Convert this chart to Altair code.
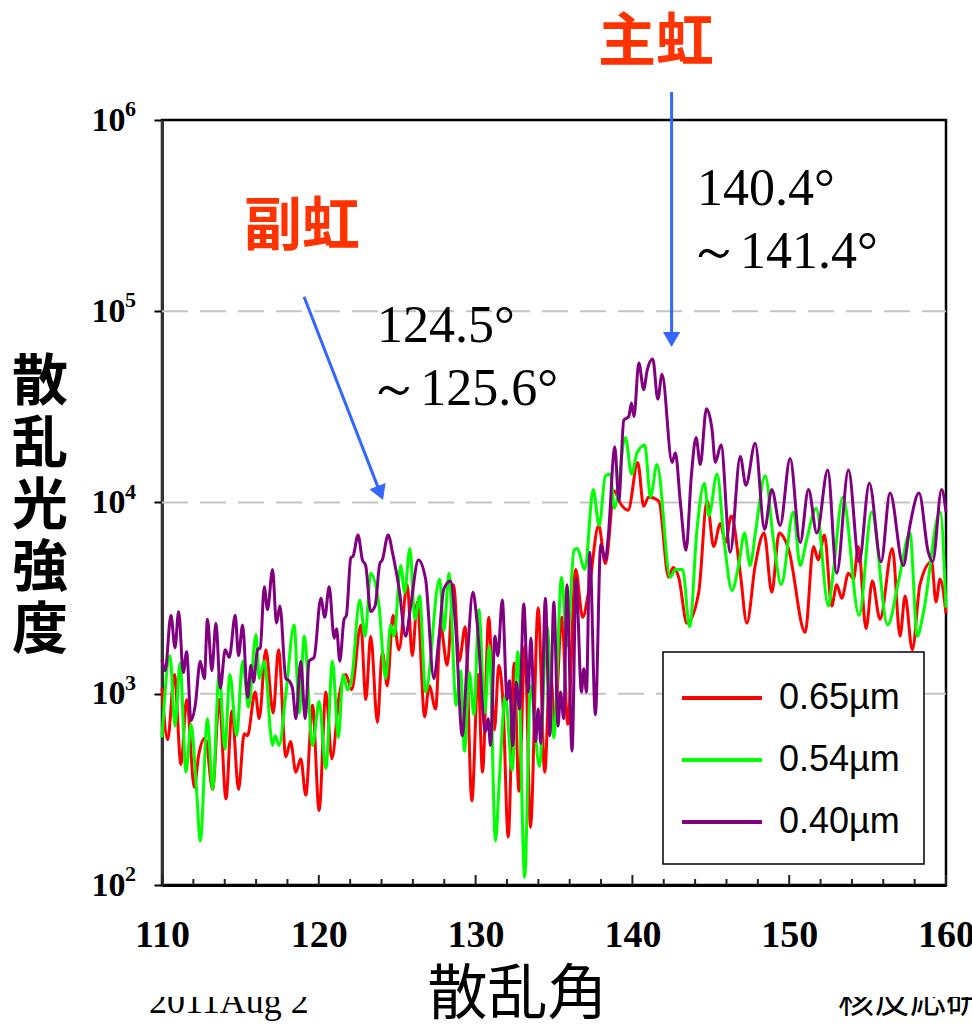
import altair as alt
import pandas as pd

# Scattering angle (deg) and scattered-light intensity for each wavelength
red_angle = [110.0, 110.36, 110.79, 111.21, 111.57, 112.06, 112.34, 112.76, 113.23, 113.65,
             114.08, 114.46, 114.88, 115.24, 115.45, 115.94, 116.2, 116.62, 117.09, 117.43,
             117.9, 118.2, 118.54, 118.85, 119.17, 119.6, 120.02, 120.45, 120.83, 121.3,
             121.72, 122.1, 122.68, 123.0, 123.31, 123.74, 124.05, 124.37, 124.73, 125.11,
             125.64, 125.96, 126.28, 126.75, 127.04, 127.45, 127.77, 128.19, 128.6, 128.95,
             129.34, 129.76, 130.16, 130.44, 130.84, 131.2, 131.48, 131.75, 132.08, 132.46,
             132.76, 133.15, 133.5, 133.99, 134.41, 134.75, 135.05, 135.5, 135.88, 136.38,
             136.83, 137.22, 137.85, 138.28, 138.85, 139.2, 139.73, 140.34, 140.72, 141.04,
             141.68, 142.31, 142.6, 142.95, 143.48, 144.23, 144.76, 145.18, 145.61, 145.93,
             146.31, 146.88, 147.3, 147.83, 148.4, 148.89, 149.36, 149.95, 151.02, 151.55,
             151.85, 152.25, 152.71, 153.03, 153.35, 153.78, 154.1, 154.41, 154.9, 155.3,
             155.79, 156.58, 157.07, 157.39, 157.85, 158.34, 159.08, 159.36, 159.62, 160.0]
red_intensity = [1070, 575, 1260, 427, 933, 324, 479, 589, 316, 933,
                 282, 813, 316, 617, 603, 1020, 741, 1700, 794, 1700,
                 468, 562, 389, 457, 295, 871, 245, 1020, 457, 977,
                 1260, 1050, 2290, 933, 2000, 708, 1660, 1100, 2570, 1700,
                 3720, 1580, 3020, 759, 1100, 832, 2240, 1410, 3720, 1480,
                 2240, 275, 1260, 389, 2510, 646, 1410, 891, 178, 1450,
                 309, 1780, 200, 2820, 389, 1410, 708, 2510, 692, 4470,
                 2510, 3470, 7590, 4790, 11500, 10000, 9120, 16200, 9550, 10700,
                 10200, 4070, 4570, 4070, 2340, 3390, 10200, 5890, 7760, 6170,
                 8510, 4270, 2340, 4680, 6920, 3390, 6920, 5750, 2090, 5890,
                 5010, 6760, 2880, 3720, 3160, 4270, 3980, 5890, 2190, 3890,
                 2450, 5750, 2000, 3240, 1700, 3720, 4900, 3020, 3980, 2630]

green_angle = [110.0, 110.51, 110.83, 111.15, 111.53, 111.85, 112.2, 112.44, 112.9, 113.23,
               113.65, 114.01, 114.33, 114.76, 115.14, 115.52, 115.99, 116.2, 116.52, 117.05,
               117.22, 117.47, 117.9, 118.43, 118.75, 119.07, 119.6, 120.02, 120.45, 120.87,
               121.25, 121.55, 121.83, 122.1, 122.61, 122.95, 123.31, 123.84, 124.26, 124.58,
               124.8, 125.22, 125.47, 125.81, 126.13, 126.43, 126.81, 127.7, 127.98, 128.3,
               128.76, 129.05, 129.29, 129.61, 129.89, 130.21, 130.59, 130.87, 131.27, 131.52,
               131.9, 132.33, 132.69, 133.13, 133.5, 134.07, 134.56, 134.99, 135.48, 135.84,
               136.27, 136.47, 136.97, 137.5, 137.88, 138.28, 138.6, 138.85, 139.56, 139.94,
               140.3, 140.79, 141.15, 141.57, 142.42, 142.74, 143.2, 143.65, 144.12, 144.59,
               144.87, 145.4, 145.85, 146.35, 146.77, 147.15, 147.51, 147.84, 148.47, 149.0,
               149.49, 150.27, 150.7, 151.1, 151.72, 152.5, 152.8, 153.42, 154.46, 155.26,
               156.28, 157.0, 157.7, 158.17, 158.55, 159.62, 160.0]
green_intensity = [589, 1580, 676, 1450, 389, 692, 316, 170, 741, 316,
                   1290, 513, 1260, 603, 1480, 851, 2040, 1200, 1480, 537,
                   603, 537, 1000, 2290, 794, 2000, 537, 912, 407, 1480,
                   589, 1260, 1050, 1200, 3090, 2000, 4270, 2880, 1200, 2290,
                   2000, 4680, 3390, 5750, 2450, 3240, 1020, 3980, 2140, 4270,
                   871, 1320, 501, 1290, 776, 2750, 794, 1780, 170, 363,
                   977, 398, 1660, 110, 1100, 417, 2240, 589, 4070, 1780,
                   5620, 5750, 4470, 11700, 7590, 13800, 14100, 9330, 21900, 14100,
                   18200, 20000, 10700, 15800, 4070, 4470, 4470, 2240, 7240, 12600,
                   8510, 14100, 6310, 3470, 4680, 6920, 4680, 6920, 13800, 6310,
                   3720, 8910, 4680, 6310, 9330, 2880, 4270, 10700, 2570, 8910,
                   2290, 3980, 6920, 2000, 2630, 8910, 2820]

purple_angle = [110.0, 110.2, 110.57, 110.83, 111.06, 111.36, 111.57, 111.85, 112.12, 112.44,
                112.7, 112.9, 113.18, 113.44, 113.72, 114.03, 114.29, 114.67, 114.88, 115.14,
                115.46, 115.67, 115.84, 116.09, 116.27, 116.52, 116.73, 117.05, 117.3, 117.52,
                117.9, 118.1, 118.32, 118.54, 118.85, 119.13, 119.38, 119.7, 120.13, 120.38,
                120.66, 120.98, 121.13, 121.34, 121.61, 121.76, 122.04, 122.19, 122.5, 122.78,
                122.99, 123.31, 123.59, 123.89, 124.05, 124.42, 124.72, 125.12, 125.54, 125.86,
                126.35, 126.81, 127.34, 127.66, 127.98, 128.4, 128.72, 129.15, 129.46, 129.83,
                130.1, 130.63, 130.8, 130.95, 131.23, 131.42, 131.7, 132.01, 132.16, 132.37,
                132.59, 132.8, 133.07, 133.35, 133.52, 133.82, 133.99, 134.16, 134.45, 134.73,
                134.99, 135.26, 135.41, 135.62, 135.83, 136.15, 136.41, 136.75, 136.9, 137.07,
                137.28, 137.64, 137.98, 138.28, 138.45, 138.88, 139.13, 139.45, 139.77, 139.94,
                140.1, 140.41, 140.72, 140.94, 141.3, 141.62, 141.89, 142.53, 142.74, 143.06,
                143.42, 143.76, 144.06, 144.33, 144.72, 145.08, 145.29, 145.65, 146.24, 146.88,
                147.24, 147.83, 148.43, 148.89, 149.42, 150.06, 150.7, 151.23, 151.76, 152.46,
                153.03, 153.78, 154.46, 155.11, 155.86, 156.43, 157.28, 157.7, 158.28, 158.87,
                159.15, 159.72, 160.0]
purple_intensity = [1510, 1320, 2570, 1740, 2690, 1290, 1660, 724, 871, 1480,
                    1200, 2450, 1320, 2340, 1070, 1700, 1550, 2570, 1580, 2290,
                    955, 1410, 1150, 1700, 1740, 3630, 2750, 4470, 2340, 2880,
                    1200, 1170, 1070, 741, 1480, 741, 1480, 1550, 3160, 2510,
                    3630, 1950, 2190, 1480, 2450, 2570, 5130, 5250, 6760, 5010,
                    4680, 2690, 2880, 4790, 5010, 6760, 5370, 3550, 2000, 2880,
                    5010, 3980, 1200, 1950, 3550, 3890, 2290, 603, 1480, 3390,
                    2340, 631, 741, 537, 2000, 1580, 3090, 933, 1170, 537,
                    1150, 832, 2950, 1020, 1950, 562, 832, 550, 3160, 603,
                    3020, 676, 1020, 741, 3720, 501, 3980, 1020, 1350, 1020,
                    5500, 776, 6030, 5010, 6460, 19500, 10200, 26900, 28200, 33100,
                    28200, 53700, 38900, 49000, 56200, 34700, 46800, 16200, 18200, 10000,
                    5620, 13800, 21900, 15800, 30900, 24000, 16200, 20000, 5500, 17400,
                    12300, 20400, 7240, 11700, 7590, 17000, 6170, 11700, 6920, 14800,
                    4270, 14800, 4900, 12600, 4900, 11200, 4680, 7590, 11200, 5500,
                    4900, 11700, 8910]

series_names = ["0.65µm", "0.54µm", "0.40µm"]
series_colors = ["#FF0000", "#00FF00", "#800080"]

# Axis ticks
decades = [100, 1000, 10000, 100000, 1000000]
decade_exponents = ["2", "3", "4", "5", "6"]
inner_gridlines = [1000, 10000, 100000]
major_ticks = [110, 120, 130, 140, 150, 160]
minor_ticks = [112, 114, 116, 118, 122, 124, 126, 128, 132, 134, 136, 138,
               142, 144, 146, 148, 152, 154, 156, 158]

# Rainbow annotations: arrows (start -> head) and angle ranges
arrow_x0 = [142.5, 119.06]
arrow_y0 = [1400000, 119000]
arrow_x1 = [142.5, 123.92]
arrow_y1 = [71100, 11200]
arrow_rot = [0, 338.7]
bow_names = ["主虹", "副虹"]
bow_x = [141.5, 118.93]
bow_y = [2500000, 272000]
range_text = ["140.4°", "～141.4°", "124.5°", "～125.6°"]
range_x = [144.12, 143.55, 123.71, 123.15]
range_y = [359000, 168000, 69000, 32400]

W, H = 784, 765
SERIF = "Liberation Serif"
CJK = "Noto Sans CJK JP"
BLUE = "#3366FF"
BOW_RED = "#FF3300"

x_scale = alt.Scale(domain=[110, 160], nice=False, zero=False)
y_scale = alt.Scale(type="log", domain=[100, 1000000], nice=False)
color_scale = alt.Scale(domain=series_names, range=series_colors)

x_axis = alt.Axis(values=major_ticks, format="d", ticks=False, grid=False,
                  domainColor="black", domainWidth=3, labelFlush=False,
                  labelFont=SERIF, labelFontWeight="bold", labelFontSize=38,
                  labelColor="black", labelPadding=31,
                  title="散乱角", titleFont=CJK, titleFontSize=60,
                  titleFontWeight="normal", titleColor="black",
                  titleX=355, titleY=110, titleBaseline="middle")
y_axis = alt.Axis(values=decades, labelExpr="'10'", grid=False,
                  tickSize=8, tickWidth=2, tickColor="black",
                  domainColor="#333333", domainWidth=3,
                  labelFont=SERIF, labelFontWeight="bold", labelFontSize=34,
                  labelColor="black", labelPadding=29, labelBaseline="middle",
                  title=None)

legend = alt.Legend(title=None, orient="none", legendX=501, legendY=532,
                    direction="vertical", symbolType="M-2,0H2", symbolSize=1600,
                    symbolStrokeWidth=4, symbolOffset=13, padding=24,
                    labelOffset=35, rowPadding=22,
                    labelFont="Liberation Sans", labelFontSize=36,
                    labelColor="black", strokeColor="black", fillColor="white")


def X(field):
    return alt.X(field, scale=x_scale, axis=x_axis)


def Y(field):
    return alt.Y(field, scale=y_scale, axis=y_axis)


def wave(angles, values, name):
    df = pd.DataFrame({"angle": angles, "intensity": values, "series": name})
    return alt.Chart(df).mark_line(strokeWidth=3, interpolate="monotone").encode(
        x=X("angle:Q"), y=Y("intensity:Q"),
        color=alt.Color("series:N", scale=color_scale, legend=legend),
    )


grid = alt.Chart(pd.DataFrame({"v": inner_gridlines})).mark_rule(
    color="#c4c4c4", strokeWidth=2, strokeDash=[26, 12]
).encode(y=Y("v:Q"), x=alt.value(0), x2=alt.value(W))

major = alt.Chart(pd.DataFrame({"t": major_ticks})).mark_rule(
    color="#222222", strokeWidth=2
).encode(x=X("t:Q"), y=alt.value(H), y2=alt.value(H - 10))
minor = alt.Chart(pd.DataFrame({"t": minor_ticks})).mark_rule(
    color="#222222", strokeWidth=2
).encode(x=X("t:Q"), y=alt.value(H), y2=alt.value(H - 6))

exponents = alt.Chart(pd.DataFrame({"v": decades, "e": decade_exponents})).mark_text(
    font=SERIF, fontWeight="bold", fontSize=22, align="left", baseline="middle", dy=-11,
    color="black"
).encode(x=alt.value(-37), y=Y("v:Q"), text="e:N")

arrow_df = pd.DataFrame({"x0": arrow_x0, "y0": arrow_y0, "x1": arrow_x1,
                         "y1": arrow_y1, "rot": arrow_rot})
arrow_lines = alt.Chart(arrow_df).mark_rule(color=BLUE, strokeWidth=3).encode(
    x=X("x0:Q"), y=Y("y0:Q"), x2="x1:Q", y2="y1:Q",
)
arrow_heads = alt.Chart(arrow_df).mark_point(
    shape="triangle-down", filled=True, color=BLUE, size=300, opacity=1
).encode(x=X("x1:Q"), y=Y("y1:Q"), angle=alt.Angle("rot:Q", scale=None))

bows = alt.Chart(pd.DataFrame({"x": bow_x, "y": bow_y, "t": bow_names})).mark_text(
    font=CJK, fontWeight="bold", fontSize=58, color=BOW_RED,
    align="center", baseline="middle"
).encode(x=X("x:Q"), y=Y("y:Q"), text="t:N")

ranges = alt.Chart(pd.DataFrame({"x": range_x, "y": range_y, "t": range_text})).mark_text(
    font=SERIF, fontSize=52, color="black", align="left", baseline="alphabetic"
).encode(x=X("x:Q"), y=Y("y:Q"), text="t:N")

one = pd.DataFrame({"k": [0]})
y_title = alt.Chart(one).mark_text(
    font=CJK, fontSize=56, fontWeight="bold", lineHeight=62, color="black",
    align="center", baseline="top"
).encode(x=alt.value(-122), y=alt.value(236), text=alt.value(["散", "乱", "光", "強", "度"]))

footer_left = alt.Chart(one).mark_text(
    font=SERIF, fontSize=36, color="black", align="left", baseline="alphabetic"
).encode(x=alt.value(-13), y=alt.value(893), text=alt.value("2011Aug  2"))
footer_right = alt.Chart(one).mark_text(
    font=CJK, fontSize=36, color="black", align="left", baseline="alphabetic"
).encode(x=alt.value(676), y=alt.value(893), text=alt.value("核反応研究"))
footer_cover = alt.Chart(pd.DataFrame({"a": [-30, 650], "b": [200, 830]})).mark_rect(
    color="white"
).encode(x=alt.X("a:Q", scale=None), x2="b:Q", y=alt.value(845), y2=alt.value(877))

chart = alt.layer(
    grid, major, minor,
    wave(red_angle, red_intensity, series_names[0]),
    wave(green_angle, green_intensity, series_names[1]),
    wave(purple_angle, purple_intensity, series_names[2]),
    exponents, arrow_lines, arrow_heads, bows, ranges, y_title,
    footer_left, footer_right, footer_cover,
).properties(
    width=W, height=H,
    padding={"left": 162, "top": 120, "right": 26, "bottom": 145},
    autosize=alt.AutoSizeParams(type="none"),
    background="white",
).configure_view(
    stroke="black", strokeWidth=2.5
).configure_legend(
    strokeWidth=1.5
)

chart.save("out.html", embed_options={"renderer": "svg", "actions": False})
